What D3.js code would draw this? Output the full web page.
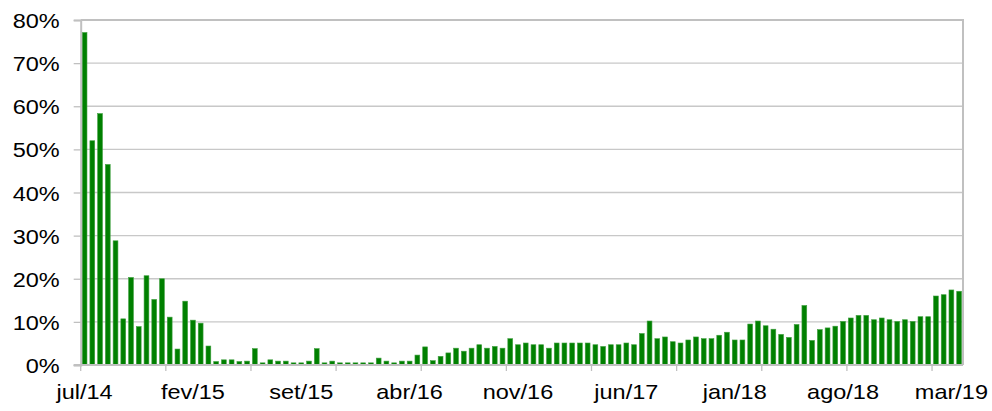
<!DOCTYPE html>
<html>
<head>
<meta charset="utf-8">
<script src="https://cdn.jsdelivr.net/npm/d3@7"></script>
<style>
  html, body { margin: 0; padding: 0; background: #fff; }
  svg { display: block; font-family: "Liberation Sans", Arial, sans-serif; }
</style>
</head>
<body>
<div id="chart"></div>
<script>
// Share per half-month period, jul/14 .. mar/19 (two bars per month)
const values = [
  77.1, 52.0, 58.3, 46.5, 28.8, 10.7, 20.3, 8.9, 20.7, 15.2,
  20.0, 11.1, 3.7, 14.8, 10.4, 9.7, 4.4, 0.8, 1.2, 1.2,
  0.8, 0.9, 3.8, 0.5, 1.2, 0.9, 0.9, 0.5, 0.5, 0.9,
  3.8, 0.5, 0.9, 0.5, 0.5, 0.5, 0.5, 0.5, 1.6, 0.9,
  0.5, 0.9, 0.9, 2.3, 4.2, 1.0, 2.0, 2.8, 3.9, 3.2,
  3.9, 4.7, 3.9, 4.3, 3.9, 6.1, 4.7, 5.1, 4.7, 4.7,
  3.9, 5.1, 5.1, 5.1, 5.1, 5.1, 4.7, 4.3, 4.7, 4.7,
  5.1, 4.7, 7.3, 10.2, 6.1, 6.5, 5.4, 5.1, 5.8, 6.5,
  6.1, 6.1, 6.9, 7.6, 5.8, 5.8, 9.5, 10.2, 9.1, 8.3,
  7.1, 6.4, 9.4, 13.8, 5.7, 8.2, 8.6, 9.0, 10.1, 10.9,
  11.5, 11.5, 10.5, 10.9, 10.5, 10.1, 10.5, 10.1, 11.2, 11.2,
  16.0, 16.3, 17.4, 17.1
];

// x labels shown every 14 periods (7 months)
const xLabels = ["jul/14", "fev/15", "set/15", "abr/16", "nov/16", "jun/17", "jan/18", "ago/18", "mar/19"];
const labelEvery = 14;
const tickEvery = 11;
const yTicks = [0, 10, 20, 30, 40, 50, 60, 70, 80];

const width = 992, height = 411;
const margin = { left: 80.7, right: 963, top: 20, bottom: 365 };
const stretch = 1.12; // text in the original is a bit wider than Liberation Sans

const svg = d3.select("#chart").append("svg")
  .attr("width", width)
  .attr("height", height);

const x = d3.scaleBand()
  .domain(d3.range(values.length))
  .range([margin.left, margin.right])
  .paddingInner(0.38)
  .paddingOuter(0.19);

const y = d3.scaleLinear()
  .domain([0, 80])
  .range([margin.bottom, margin.top]);

// Gridlines
svg.append("g")
  .selectAll("line")
  .data(yTicks.slice(1, -1))
  .join("line")
  .attr("x1", margin.left).attr("x2", margin.right)
  .attr("y1", d => y(d)).attr("y2", d => y(d))
  .attr("stroke", "#c8c8c8")
  .attr("stroke-width", 1.3);

// Plot border (top, right)
svg.append("path")
  .attr("d", `M${margin.left},${margin.top}H${margin.right}V${margin.bottom}`)
  .attr("fill", "none")
  .attr("stroke", "#c0c0c0")
  .attr("stroke-width", 2);

// Bars
svg.append("g")
  .selectAll("rect")
  .data(values)
  .join("rect")
  .attr("x", (d, i) => x(i))
  .attr("y", d => y(d))
  .attr("width", x.bandwidth())
  .attr("height", d => margin.bottom - y(d))
  .attr("fill", "#008000")
  .attr("stroke", "#3f9f3f")
  .attr("stroke-width", 0.6);

// Y axis
const yAxis = d3.axisLeft(y)
  .tickValues(yTicks)
  .tickSize(7)
  .tickPadding(14)
  .tickFormat(d => d + "%");

const gy = svg.append("g")
  .attr("transform", `translate(${margin.left},0)`)
  .call(yAxis)
  .attr("font-family", null)
  .attr("font-size", "21px");
gy.select(".domain").attr("stroke", "#c0c0c0").attr("stroke-width", 2);
gy.selectAll(".tick line").attr("stroke", "#c0c0c0").attr("stroke-width", 1.3);
gy.selectAll(".tick text")
  .attr("fill", "#000")
  .attr("dy", "0.36em")
  .attr("x", -21 / stretch)
  .attr("transform", `scale(${stretch},1)`);

// X axis line
svg.append("line")
  .attr("x1", margin.left - 7).attr("x2", margin.right)
  .attr("y1", margin.bottom).attr("y2", margin.bottom)
  .attr("stroke", "#c0c0c0")
  .attr("stroke-width", 2);

// X tick marks at period boundaries every 11 periods
const step = x.step();
const boundary = i => x(i) - step * x.paddingInner() / 2;
svg.append("g")
  .selectAll("line")
  .data(d3.range(0, values.length, tickEvery))
  .join("line")
  .attr("x1", d => boundary(d)).attr("x2", d => boundary(d))
  .attr("y1", margin.bottom).attr("y2", margin.bottom + 6)
  .attr("stroke", "#c0c0c0")
  .attr("stroke-width", 1.3);

// X labels centered on every 14th period
svg.append("g")
  .selectAll("text")
  .data(xLabels)
  .join("text")
  .attr("transform", (d, i) => `translate(${x(i * labelEvery) + x.bandwidth() / 2},399) scale(${stretch},1)`)
  .attr("text-anchor", "middle")
  .attr("font-size", "21px")
  .attr("fill", "#000")
  .text(d => d);
</script>
</body>
</html>
